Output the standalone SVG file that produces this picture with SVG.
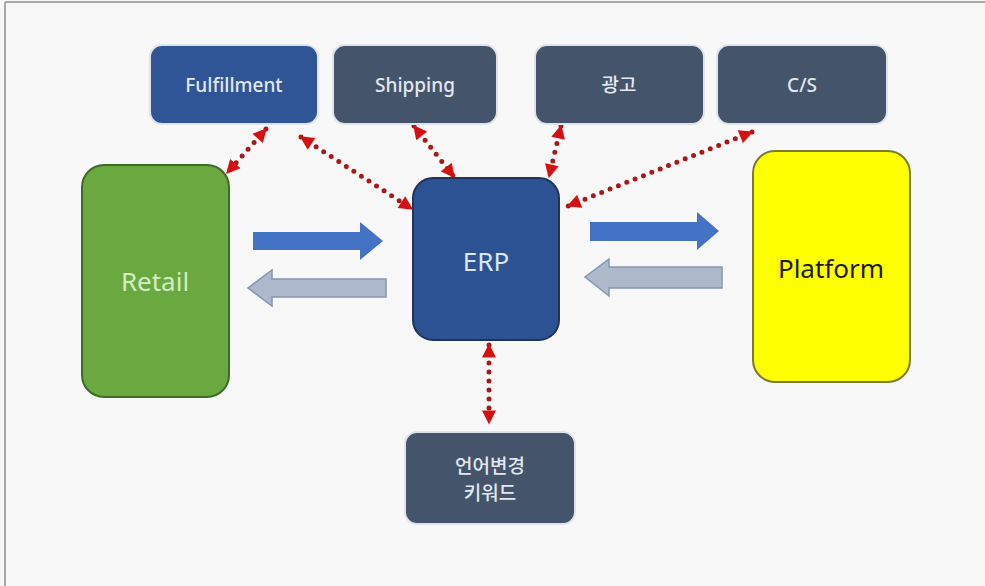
<svg xmlns="http://www.w3.org/2000/svg" width="985" height="586" viewBox="0 0 985 586">
  <defs>
    <style>
      .small { fill: #44546a; stroke: #dfe4ea; stroke-width: 2; }
      .lbl { font-family: "Noto Sans", "Noto Sans CJK KR", sans-serif; text-anchor: middle; }
      .sm { font-size: 19px; font-weight: 500; fill: #e3e8f0; }
      .big { font-size: 26px; }
      .dots { fill: none; stroke: #a81818; stroke-width: 5; stroke-dasharray: 0 9; stroke-linecap: round;
              marker-start: url(#tip); marker-end: url(#tip); }
      .fwd { fill: #4472c4; }
      .back { fill: #adb9ca; stroke: #8497b0; stroke-width: 1.5; }
    </style>
    <marker id="tip" viewBox="0 0 10 10" refX="9" refY="5" markerWidth="15" markerHeight="14" markerUnits="userSpaceOnUse" orient="auto-start-reverse">
      <path d="M0,0 L10,5 L0,10 z" fill="#d41010"/>
    </marker>
  </defs>

  <!-- canvas -->
  <rect x="0" y="0" width="985" height="586" fill="#f8f8f8"/>
  <line x1="5" y1="2" x2="985" y2="2" stroke="#a8a8a8" stroke-width="2"/>
  <line x1="5" y1="2" x2="5" y2="586" stroke="#a8a8a8" stroke-width="2"/>

  <!-- connectors -->
  <g id="connectors">
    <!-- red dotted links, arrowheads at both ends -->
    <line class="dots" x1="266" y1="129" x2="227" y2="173"/>
    <line class="dots" x1="301" y1="137" x2="412" y2="209"/>
    <line class="dots" x1="414" y1="126" x2="454" y2="177"/>
    <line class="dots" x1="561" y1="126" x2="549" y2="177"/>
    <line class="dots" x1="752" y1="132" x2="568" y2="206"/>
    <line class="dots" x1="489" y1="345" x2="489" y2="423"/>

    <!-- block arrows between Retail, ERP and Platform -->
    <path class="fwd" d="M253,232 H360 V222 L383,241 L360,260 V250 H253 Z"/>
    <path class="back" d="M386,279 H272 V270 L248,288 L272,306 V297 H386 Z"/>
    <path class="fwd" d="M590,222 H697 V212 L719,231 L697,250 V241 H590 Z"/>
    <path class="back" d="M722,267 H609 V259 L585,277 L609,296 V288 H722 Z"/>
  </g>

  <!-- nodes -->
  <g id="fulfillment">
    <rect x="150" y="45" width="168" height="79" rx="12" fill="#2f5597" stroke="#dfe4ea" stroke-width="2"/>
    <text class="lbl sm" x="234" y="92">Fulfillment</text>
  </g>
  <g id="shipping">
    <rect class="small" x="333" y="45" width="164" height="79" rx="12"/>
    <text class="lbl sm" x="415" y="92">Shipping</text>
  </g>
  <g id="ad">
    <rect class="small" x="535" y="45" width="169" height="79" rx="12"/>
    <text class="lbl sm" x="619" y="92">광고</text>
  </g>
  <g id="cs">
    <rect class="small" x="717" y="45" width="170" height="79" rx="12"/>
    <text class="lbl sm" x="802" y="92">C/S</text>
  </g>
  <g id="retail">
    <rect x="82" y="165" width="147" height="232" rx="22" fill="#6aa840" stroke="#3f6b25" stroke-width="2"/>
    <text class="lbl big" x="155" y="291" fill="#d4ecc4">Retail</text>
  </g>
  <g id="erp">
    <rect x="413" y="178" width="146" height="162" rx="20" fill="#2c5293" stroke="#1e3458" stroke-width="2"/>
    <text class="lbl big" x="486" y="271" fill="#dbe6f5">ERP</text>
  </g>
  <g id="platform">
    <rect x="753" y="151" width="157" height="231" rx="22" fill="#ffff00" stroke="#7a7a30" stroke-width="2"/>
    <text class="lbl big" x="831" y="278" fill="#1a1a1a" font-size="27">Platform</text>
  </g>
  <g id="keywords">
    <rect class="small" x="405" y="432" width="170" height="92" rx="12"/>
    <text class="lbl sm" x="490" y="473">언어변경</text>
    <text class="lbl sm" x="490" y="500">키워드</text>
  </g>
</svg>
